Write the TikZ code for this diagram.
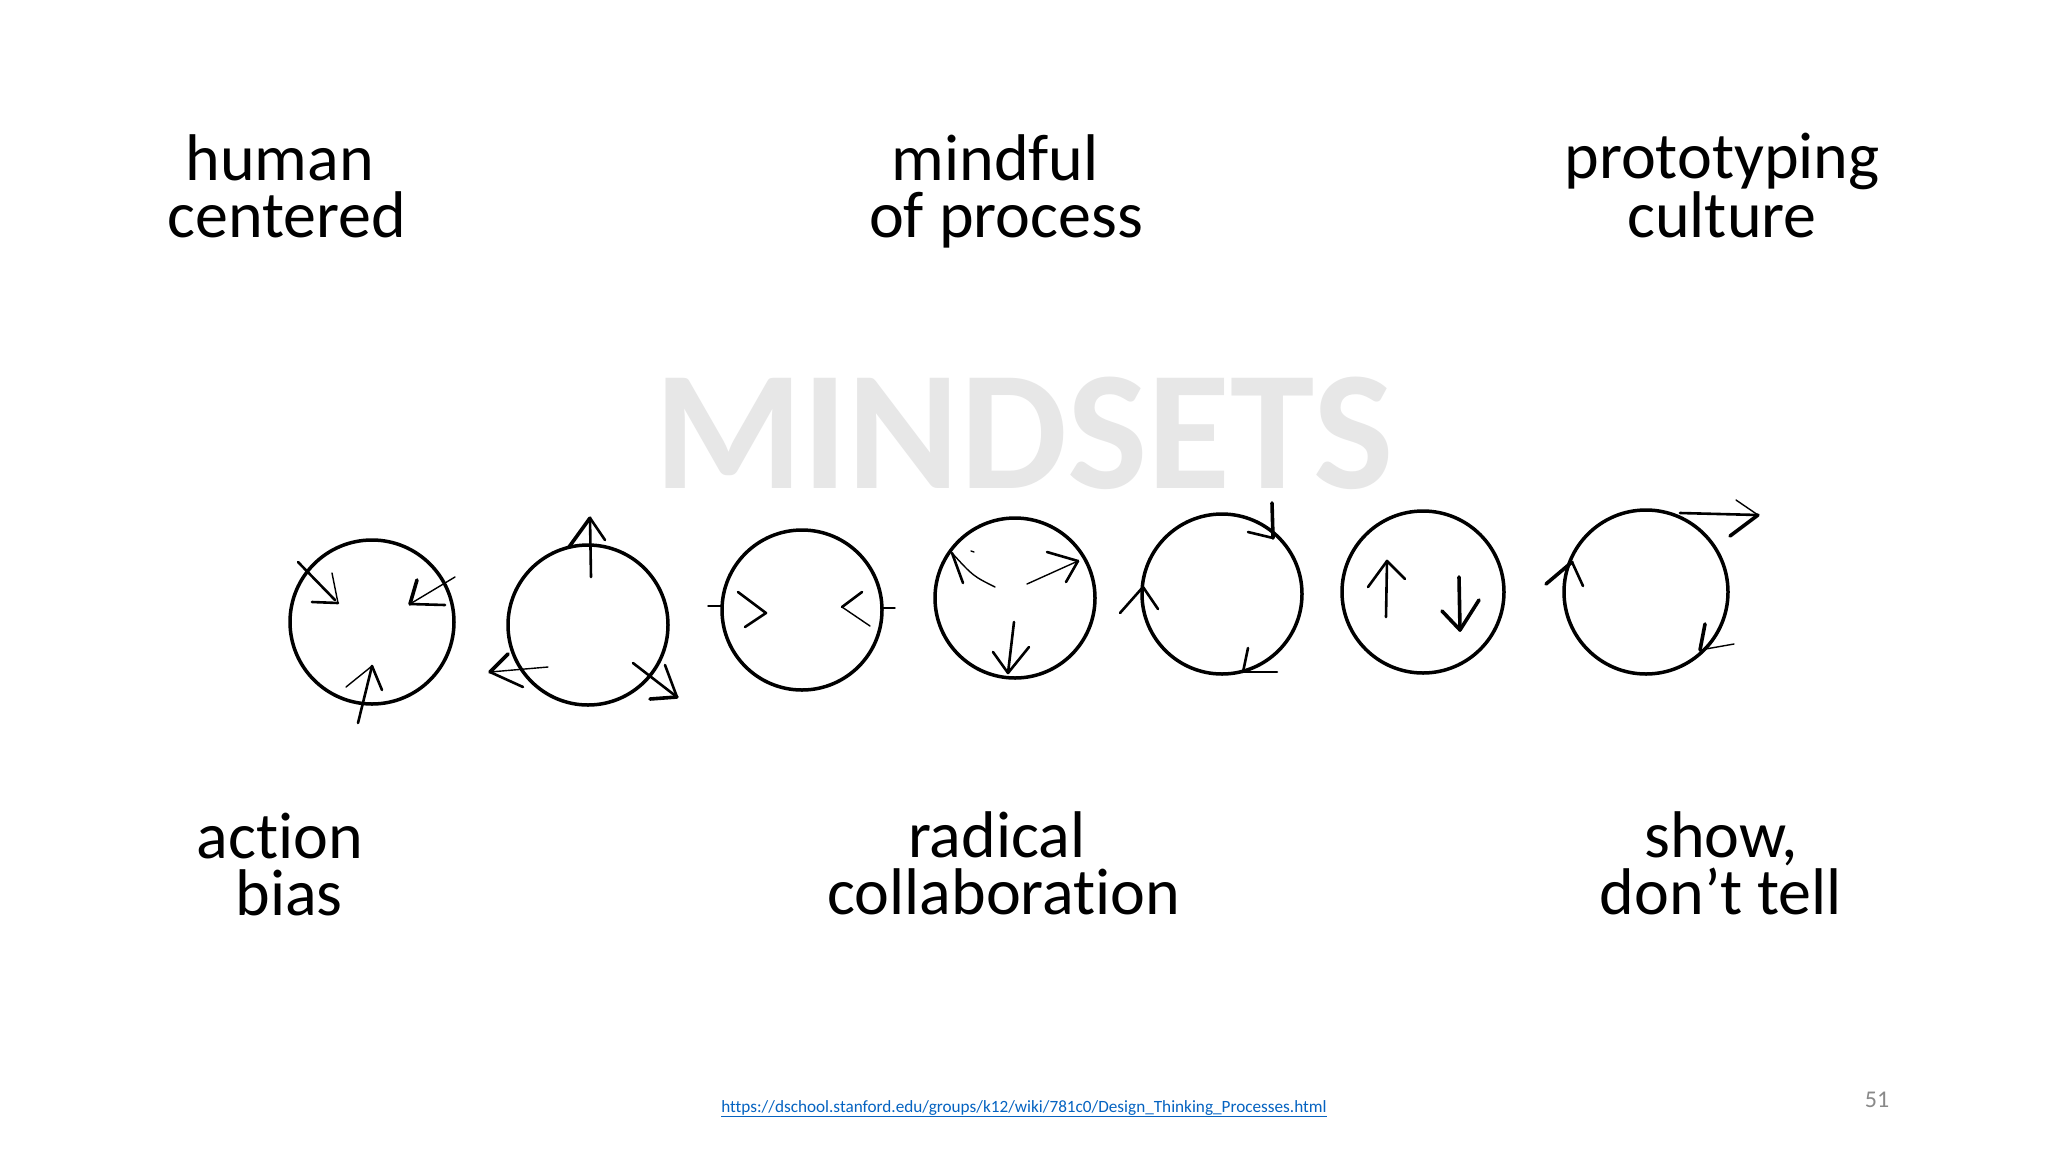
\documentclass[tikz,border=0pt]{standalone}
\usepackage{fontspec}
\setmainfont{Carlito}[Ligatures={NoCommon}]
\usetikzlibrary{calc}
\definecolor{wm}{RGB}{231,231,231}
\definecolor{linkblue}{RGB}{5,99,193}
\definecolor{pgnum}{RGB}{137,137,137}
\begin{document}
\begin{tikzpicture}[x=1pt,y=-1pt,
  lbl/.style={font=\fontsize{66}{57}\selectfont, align=center, anchor=base, inner sep=0pt},
  mind/.style={draw, circle, line width=3.5pt, inner sep=0pt},
  stroke/.style={line width=2.6pt, line cap=round, line join=round},
  fine/.style={line width=1.4pt, line cap=round, line join=round},
  bold/.style={line width=3.6pt, line cap=round, line join=round}]
\useasboundingbox[fill=white] (0,0) rectangle (2048,1152);

% watermark title
\node[font=\fontsize{170}{170}\selectfont\bfseries, text=wm, anchor=base, inner sep=0pt] (title) at (1024,488) {MINDSETS};

% labels (anchor base = baseline of the last line)
\node[lbl] (hc) at (287,237) {human\hspace*{0.22em}\\centered};
\node[lbl] (mp) at (1006,237) {mindful\hspace*{0.33em}\\of process};
\node[lbl] (pc) at (1722,237) {prototyping\\culture};
\node[lbl] (ab) at (289,915) {action\hspace*{0.27em}\\bias};
\node[lbl] (rc) at (1004,914) {radical\hspace*{0.22em}\\collaboration};
\node[lbl] (sd) at (1721,914) {show,\\don’t tell};

% circles
\node[mind, minimum size=164pt] (c1) at (372,622) {};
\node[mind, minimum size=160pt] (c2) at (588,625) {};
\node[mind, minimum size=160pt] (c3) at (802,610) {};
\node[mind, minimum size=160pt] (c4) at (1015,598) {};
\node[mind, minimum size=160pt] (c5) at (1222,594) {};
\node[mind, minimum size=162pt] (c6) at (1423,592) {};
\node[mind, minimum size=164pt] (c7) at (1646,592) {};

% circle 1: three arrows pointing inwards
\begin{scope}[shift={(c1.center)}]
  \draw[stroke] (-74,-60) -- (-37,-22);
  \draw[fine] (-40,-49) -- (-34,-19);
  \draw[stroke] (-60,-20) -- (-34,-19);
  \draw[fine] (83,-45) -- (38,-18);
  \draw[bold] (45,-42) -- (38,-18);
  \draw[stroke] (73,-17) -- (38,-18);
  \draw[stroke] (-14,101) -- (0,44);
  \draw[fine] (-26,65) -- (0,44);
  \draw[stroke] (10,68) -- (0,44);
\end{scope}

% circle 2: three arrows pointing outwards
\begin{scope}[shift={(c2.center)}]
  \draw[stroke] (3,-48) -- (2,-107);
  \draw[bold] (-19,-78) -- (2,-107);
  \draw[stroke] (17,-85) -- (2,-107);
  \draw[fine] (-40,42) -- (-98,47);
  \draw[bold] (-80,29) -- (-98,47);
  \draw[stroke] (-65,62) -- (-98,47);
  \draw[stroke] (45,38) -- (89,72);
  \draw[stroke] (77,40) -- (89,72);
  \draw[bold] (62,74) -- (89,72);
\end{scope}

% circle 3: converging chevrons
\begin{scope}[shift={(c3.center)}]
  \draw[fine] (-94,-4) -- (-79,-4);
  \draw[fine] (80,-2) -- (93,-2);
  \draw[stroke] (-64,-18) -- (-36,3) -- (-57,17);
  \draw[stroke] (60,-18) -- (40,-3);
  \draw[fine] (40,-3) -- (68,16);
\end{scope}

% circle 4: three arrows diverging from centre
\begin{scope}[shift={(c4.center)}]
  \draw[fine] (-20,-11) .. controls (-42,-22) .. (-63,-45);
  \draw[stroke] (-52,-15) -- (-63,-45);
  \draw[fine] (-44,-47) -- (-41,-46);
  \draw[fine] (12,-14) -- (63,-37);
  \draw[stroke] (32,-46) -- (63,-37);
  \draw[stroke] (51,-16) -- (63,-37);
  \draw[stroke] (-1,24) -- (-7,75);
  \draw[stroke] (-22,54) -- (-7,75);
  \draw[stroke] (14,49) -- (-7,75);
\end{scope}

% circle 5: clockwise arrowheads on the rim
\begin{scope}[shift={(c5.center)}]
  \draw[bold] (50,-91) -- (51,-56);
  \draw[stroke] (26,-62) -- (51,-56);
  \draw[stroke] (-102,19) -- (-79,-7);
  \draw[stroke] (-64,15) -- (-79,-7);
  \draw[stroke] (26,54) -- (21,78);
  \draw[stroke] (55,78) -- (21,78);
\end{scope}

% circle 6: up and down arrows
\begin{scope}[shift={(c6.center)}]
  \draw[stroke] (-37,25) -- (-36,-31);
  \draw[stroke] (-55,-5) -- (-36,-31) -- (-18,-13);
  \draw[bold] (36,-15) -- (37,38);
  \draw[bold] (19,19) -- (37,38) -- (56,8);
\end{scope}

% circle 7: rim arrows and outgoing arrow
\begin{scope}[shift={(c7.center)}]
  \draw[stroke] (34,-79) -- (112,-77);
  \draw[fine] (90,-92) -- (112,-77);
  \draw[bold] (84,-56) -- (112,-77);
  \draw[bold] (-100,-8) -- (-74,-30);
  \draw[stroke] (-63,-6) -- (-74,-30);
  \draw[bold] (59,32) -- (54,58);
  \draw[fine] (88,52) -- (54,58);
\end{scope}

% source link and page number
\node[font=\fontsize{17.2}{20}\selectfont, text=linkblue, anchor=base, inner sep=0pt] (url) at (1024,1112)
  {\underline{https://dschool.stanford.edu/groups/k12/wiki/781c0/Design\_Thinking\_Processes.html}};
\node[font=\fontsize{24}{28}\selectfont, text=pgnum, anchor=base, inner sep=0pt] (pg) at (1877,1107) {51};
\end{tikzpicture}
\end{document}
